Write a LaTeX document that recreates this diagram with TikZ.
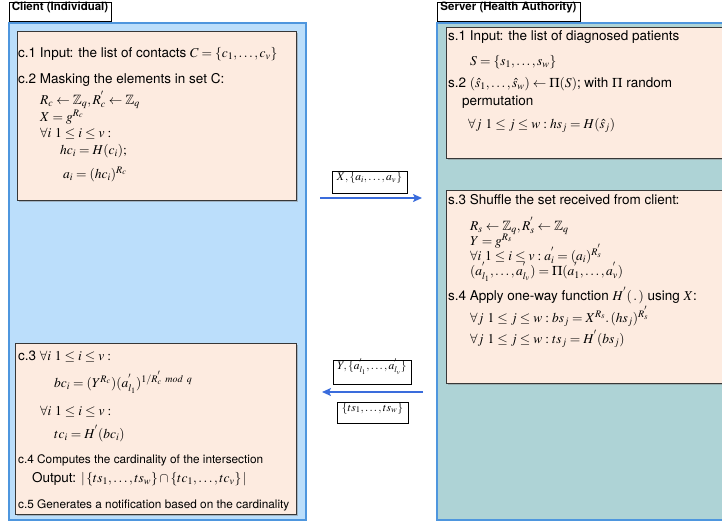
\documentclass[tikz,border=0pt]{standalone}
\usepackage{amssymb}
\usepackage{mathptmx}
\usepackage[no-math]{fontspec}
\setmainfont{TeX Gyre Heros}
\usetikzlibrary{arrows.meta,fit,shadows}
\definecolor{clientblue}{RGB}{187,222,251}
\definecolor{serverteal}{RGB}{174,211,214}
\definecolor{panelline}{RGB}{78,150,222}
\definecolor{peach}{RGB}{253,235,224}
\definecolor{boxline}{RGB}{55,55,55}
\definecolor{msgblue}{RGB}{58,108,220}
\tikzset{
  panel/.style={draw=panelline,line width=1.2pt,inner sep=0pt},
  paneltitle/.style={draw=black,fill=white,line width=0.8pt,inner sep=0pt,
                     font=\fontsize{11.5}{13}\selectfont\bfseries},
  stepbox/.style={draw=boxline,fill=peach,line width=0.9pt,inner sep=0pt,
                  drop shadow={shadow xshift=1.5pt,shadow yshift=-1.5pt,opacity=0.45}},
  txt/.style={anchor=base west,inner sep=0pt},
  narrowtxt/.style={txt,font=\fontsize{11.8}{14}\selectfont},
  msglabel/.style={draw=black,fill=white,line width=0.8pt,inner sep=0pt,
                   font=\fontsize{11.5}{13}\selectfont},
  msg/.style={draw=msgblue,line width=2pt,-{Stealth[length=9pt,width=8pt,inset=2pt]}}
}

\begin{document}
\begin{tikzpicture}[x=1pt,y=-1pt,font=\fontsize{13.5}{16}\selectfont]
  \useasboundingbox (0,0) rectangle (722,523);
  \clip (0,0) rectangle (722,523);
  \node[panel,fill=clientblue,fit={(9,23) (306,520)}] (client) {};
  \node[panel,fill=serverteal,fit={(437,23) (745,520)}] (server) {};
  \node[paneltitle,fit={(9,2) (111,21)}] (clienttitle) {Client (Individual)};
  \node[paneltitle,fit={(437,2) (580,21)}] (servertitle) {Server (Health Authority)};

  \node[stepbox,fit={(17,31) (296,200)}] (cbox1) {};
  \node[txt] (c1) at (18,57) {c.1 Input: the list of contacts $C=\{c_1,\ldots,c_v\}$};
  \node[txt] (c2) at (18,83) {c.2 Masking the elements in set C:};
  \node[txt] (c2a) at (40,104) {$R_c\leftarrow\mathbb{Z}_q, R^{'}_c\leftarrow\mathbb{Z}_q$};
  \node[txt] (c2b) at (40,121) {$X=g^{R_c}$};
  \node[txt] (c2c) at (40,137) {$\forall i\ 1\le i\le v:$};
  \node[txt] (c2d) at (60,154) {$hc_i=H(c_i);$};
  \node[txt] (c2e) at (63,178) {$a_i=(hc_i)^{R_c}$};

  \node[stepbox,fit={(15,343) (296,514)}] (cbox2) {};
  \node[txt] (c3) at (18,360) {c.3 $\forall i\ 1\le i\le v:$};
  \node[txt] (c3a) at (54,387) {$bc_i=(Y^{R_c})(a^{'}_{l_1})^{1/R^{'}_c\ mod\ q}$};
  \node[txt] (c3b) at (40,415) {$\forall i\ 1\le i\le v:$};
  \node[txt] (c3c) at (54,438) {$tc_i=H^{'}(bc_i)$};
  \node[narrowtxt] (c4) at (18,463) {c.4 Computes the cardinality of the intersection};
  \node[txt] (c4a) at (32,482) {Output: $|\,\{ts_1,\ldots,ts_w\}\cap\{tc_1,\ldots,tc_v\}\,|$};
  \node[narrowtxt] (c5) at (18,508) {c.5 Generates a notification based on the cardinality};

  \node[stepbox,fit={(446,27) (745,158)}] (sbox1) {};
  \node[txt] (s1) at (448,40) {s.1 Input: the list of diagnosed patients};
  \node[txt] (s1a) at (470,65) {$S=\{s_1,\ldots,s_w\}$};
  \node[txt] (s2) at (448,87) {s.2 $(\hat{s}_1,\ldots,\hat{s}_w)\leftarrow\Pi(S)$; with $\Pi$ random};
  \node[txt] (s2a) at (462,105) {permutation};
  \node[txt] (s2b) at (468,128) {$\forall j\ 1\le j\le w: hs_j=H(\hat{s}_j)$};

  \node[stepbox,fit={(446,190) (745,383)}] (sbox2) {};
  \node[txt] (s3) at (448,204) {s.3 Shuffle the set received from client:};
  \node[txt] (s3a) at (470,230) {$R_s\leftarrow\mathbb{Z}_q, R^{'}_s\leftarrow\mathbb{Z}_q$};
  \node[txt] (s3b) at (470,245) {$Y=g^{R_s}$};
  \node[txt] (s3c) at (470,260) {$\forall i\ 1\le i\le v: a^{'}_i=(a_i)^{R^{'}_s}$};
  \node[txt] (s3d) at (470,275) {$(a^{'}_{l_1},\ldots,a^{'}_{l_v})=\Pi(a^{'}_1,\ldots,a^{'}_v)$};
  \node[txt] (s4) at (448,300) {s.4 Apply one-way function $H^{'}(\,.\,)$ using $X$:};
  \node[txt] (s4a) at (470,322) {$\forall j\ 1\le j\le w: bs_j=X^{R_s}.\,(hs_j)^{R^{'}_s}$};
  \node[txt] (s4b) at (470,343) {$\forall j\ 1\le j\le w: ts_j=H^{'}(bs_j)$};

  \node[msglabel,fit={(332,171) (407,193)}] (lblX) {$X,\{a_i,\ldots,a_v\}$};
  \node[msglabel,fit={(333,360) (411,384)}] (lblY) {$Y,\{a^{'}_{l_1},\ldots,a^{'}_{l_v}\}$};
  \node[msglabel,fit={(337,402) (408,423)}] (lblTS) {$\{ts_1,\ldots,ts_w\}$};
  \coordinate (sendX) at (320,198);
  \coordinate (recvX) at (422,198);
  \coordinate (sendY) at (423,392);
  \coordinate (recvY) at (322,392);
  \draw[msg] (sendX) -- (recvX);
  \draw[msg] (sendY) -- (recvY);
\end{tikzpicture}
\end{document}
